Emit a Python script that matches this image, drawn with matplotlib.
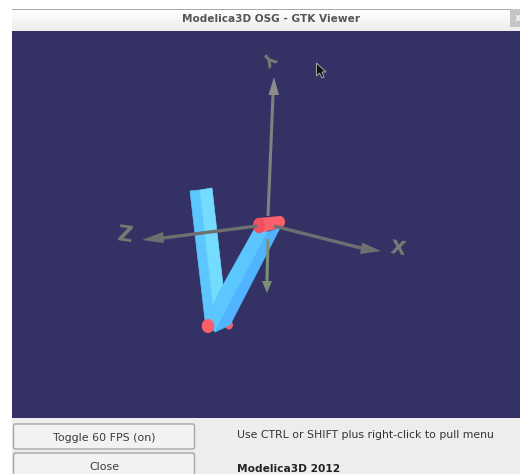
import numpy as np
import matplotlib.pyplot as plt
from matplotlib.patches import Polygon, Rectangle, FancyBboxPatch, Ellipse

# screenshot size, everything below is in image pixels
W, H = 520, 474

title = "Modelica3D OSG - GTK Viewer"
button_labels = ["Toggle 60 FPS (on)", "Close"]
hint_text = "Use CTRL or SHIFT plus right-click to pull menu"
footer_text = "Modelica3D 2012"

# the V shape
left_dark = [(190, 191), (200, 190), (213, 305), (215, 332), (205, 320)]
left_light = [(200, 190), (212, 188), (223, 285), (213, 305)]
right_light = [(223, 285), (255, 228), (268, 232), (215, 332), (213, 305)]
right_dark = [(268, 232), (280, 228), (230, 325), (215, 332)]

# axes: start, end of shaft, tip, and the two base corners of the head
axis_y = [(268, 216), (273, 95), (274, 77), (268.5, 95), (279, 95)]
axis_z = [(257, 226), (163, 238), (142, 240), (163, 232), (164, 243)]
axis_x = [(274, 226), (361, 248), (381, 251), (362, 242.5), (360, 254)]
axis_down = [(268, 239), (267, 281), (267, 293), (262, 281), (272, 281)]

fig = plt.figure(figsize=(W / 100, H / 100), dpi=100)
ax = fig.add_axes([0, 0, 1, 1])
ax.set_xlim(0, W)
ax.set_ylim(H, 0)
ax.axis("off")

# window
grad = np.linspace(0, 1, 22).reshape(-1, 1)
ax.imshow(grad, extent=(12, 520, 31, 9), cmap="gray_r", vmin=0, vmax=14, aspect="auto", zorder=0)
ax.set_xlim(0, W)
ax.set_ylim(H, 0)
ax.add_patch(Rectangle((12, 8.5), 508, 1.2, fc="#a8a8a8", ec="none", zorder=0))
ax.add_patch(Rectangle((12, 31), 508, 387, fc="#343264", ec="none", zorder=0))
ax.add_patch(Rectangle((12, 418), 508, 56, fc="#ededeb", ec="none", zorder=0))
ax.add_patch(Rectangle((510, 9), 10, 18, fc="#c4c6c6", ec="none", zorder=0))
ax.text(271, 19, title, ha="center", va="center", fontsize=7.6, weight="bold", color="#555555")
ax.text(518, 18, "x", ha="center", va="center", fontsize=7, weight="bold", color="#f6f6f6")

# buttons
for y0, h, label, ty in [(424, 25, button_labels[0], 438), (453, 30, button_labels[1], 467)]:
    ax.add_patch(FancyBboxPatch((13.5, y0), 181, h, boxstyle="round,pad=0,rounding_size=2",
                                fc="#f2f2f1", ec="#a6a6a6", lw=1))
    ax.text(104, ty, label, ha="center", va="center", fontsize=7.9, color="#3a3a3a")
ax.text(237, 435, hint_text, ha="left", va="center", fontsize=7.8, color="#333333")
ax.text(237, 469, footer_text, ha="left", va="center", fontsize=7.65, weight="bold", color="#222222")

# y shaft goes behind the red joint
ax.plot([axis_y[0][0], axis_y[1][0]], [axis_y[0][1], axis_y[1][1]], color="#808080", lw=2.2, solid_capstyle="butt")
ax.add_patch(Polygon([axis_y[2], axis_y[3], axis_y[4]], fc="#8c8c8c", ec="none"))

# bottom joint, the small end sits behind the V
ax.add_patch(Ellipse((229, 325), 8, 9, fc="#f85c66", ec="none"))

# V, edges in the face colour so no seams show
ax.add_patch(Polygon(left_dark, fc="#5cc6ff", ec="#5cc6ff", lw=0.5))
ax.add_patch(Polygon(left_light, fc="#73dcff", ec="#73dcff", lw=0.5))
ax.add_patch(Polygon(right_light, fc="#5cc6ff", ec="#5cc6ff", lw=0.5))
ax.add_patch(Polygon(right_dark, fc="#50b4ff", ec="#50b4ff", lw=0.5))
ax.add_patch(Ellipse((208, 326), 12.5, 14, fc="#fb5f6b", ec="none"))

# top joint, a red cylinder
ax.add_patch(Ellipse((280, 222), 10, 12, fc="#fb5f6b", ec="none"))
ax.add_patch(Polygon([(259, 218), (280, 216), (280, 228), (259, 233)], fc="#fb5f6b", ec="none"))
ax.add_patch(Ellipse((259, 225.5), 12, 15.5, fc="#f0505e", ec="none"))


def draw_axis(pts, color, lw=2.4):
    start, end, tip, b1, b2 = pts
    ax.plot([start[0], end[0]], [start[1], end[1]], color=color, lw=lw, solid_capstyle="butt")
    ax.add_patch(Polygon([tip, b1, b2], fc=color, ec="none"))


draw_axis(axis_z, "#6f6f6f")
draw_axis(axis_x, "#6f6f6f")
draw_axis(axis_down, "#7d8f78", lw=2.2)

# axis letters
ax.text(124, 235, "Z", ha="center", va="center", fontsize=15, weight="bold", color="#7b7b76", rotation=-8)
ax.text(398, 249, "X", ha="center", va="center", fontsize=14, weight="bold", color="#7b7b76", rotation=-8)
ax.text(269, 57, "Y", ha="center", va="center", fontsize=12, weight="bold", color="#7b7b76", rotation=-140)

# mouse pointer
cursor = [(316.5, 63), (316.5, 76), (319.5, 73), (322, 78), (324, 77), (322, 72), (326, 72)]
ax.add_patch(Polygon(cursor, fc="#111111", ec="#aaaaaa", lw=0.7))

fig.savefig("out.png", dpi=100)
